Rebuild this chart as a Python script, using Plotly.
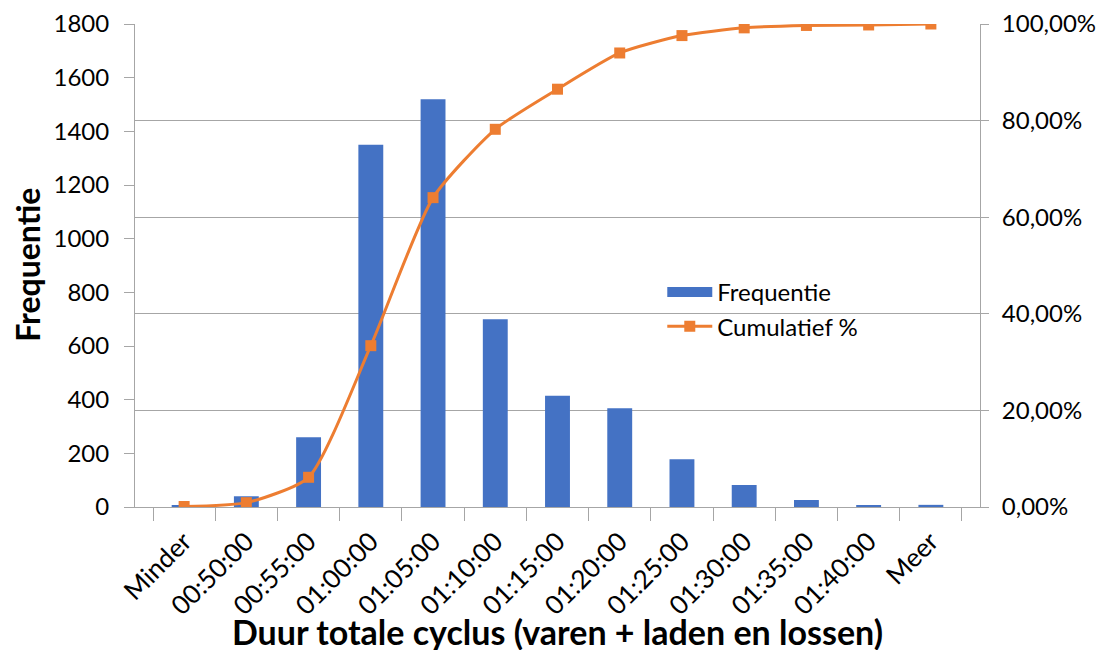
import plotly.graph_objects as go

categories = ["Minder", "00:50:00", "00:55:00", "01:00:00", "01:05:00", "01:10:00",
              "01:15:00", "01:20:00", "01:25:00", "01:30:00", "01:35:00", "01:40:00", "Meer"]
frequentie = [5, 40, 260, 1350, 1520, 700, 415, 368, 178, 82, 26, 5, 8]
cumulatief = [0.001, 0.009, 0.0615, 0.334, 0.6405, 0.782, 0.865, 0.94, 0.976, 0.992, 0.997, 0.998, 1.0]
left_ticks = [0, 200, 400, 600, 800, 1000, 1200, 1400, 1600, 1800]
right_ticks = [0, 0.2, 0.4, 0.6, 0.8, 1.0]

FONT = "Lato"
AXIS_COL = "#a6a6a6"
BLUE = "#4472C4"
ORANGE = "#ED7D31"
TICK_SIZE = 24

fig = go.Figure()
fig.add_trace(go.Bar(x=categories, y=frequentie, name="Frequentie", showlegend=False,
                     marker=dict(color=BLUE, line=dict(width=0)), yaxis="y"))
# legend entry drawn as a wide block, like the reference
fig.add_trace(go.Scatter(x=[None], y=[None], name="Frequentie", mode="lines",
                         line=dict(color=BLUE, width=14), yaxis="y"))
fig.add_trace(go.Scatter(x=categories, y=cumulatief, name="Cumulatief %", yaxis="y2",
                         mode="lines+markers", line=dict(color=ORANGE, width=3, shape="spline", smoothing=0.6),
                         marker=dict(symbol="square", size=11, color=ORANGE)))

fig.update_layout(
    width=1104, height=650,
    margin=dict(l=127, r=132, t=16, b=151, autoexpand=False),
    paper_bgcolor="white", plot_bgcolor="white",
    separators=",.",
    font=dict(family=FONT, size=TICK_SIZE, color="#000000"),
    bargap=0.6,
    showlegend=True,
    legend=dict(x=0.624, y=0.491, xanchor="left", yanchor="top",
                bgcolor="rgba(0,0,0,0)", font=dict(size=TICK_SIZE, family=FONT),
                tracegroupgap=0, itemwidth=45),
    xaxis=dict(type="category", tickangle=-45, showline=True, linecolor=AXIS_COL, linewidth=1,
               ticks="outside", tickson="boundaries", ticklen=13, tickcolor=AXIS_COL,
               ticklabelstandoff=8,
               showgrid=False, tickfont=dict(size=26, family=FONT), automargin=False),
    yaxis=dict(range=[0, 1800], tickvals=left_ticks, showgrid=False, showline=True,
               linecolor=AXIS_COL, linewidth=1, ticks="outside", ticklen=10, tickcolor=AXIS_COL,
               ticklabelstandoff=10,
               tickfont=dict(size=TICK_SIZE, family=FONT), zeroline=False, automargin=False),
    yaxis2=dict(range=[0, 1.0], tickvals=right_ticks, tickformat=".2%", overlaying="y", side="right",
                showgrid=True, gridcolor="#a6a6a6", gridwidth=1, showline=True, linecolor=AXIS_COL,
                linewidth=1, ticks="outside", ticklen=8, tickcolor=AXIS_COL, zeroline=False,
                ticklabelstandoff=8,
                tickfont=dict(size=TICK_SIZE, family=FONT), automargin=False),
    annotations=[
        dict(text="<b>Duur totale cyclus (varen + laden en lossen)</b>", xref="paper", yref="paper",
             x=0.5, y=-0.258, xanchor="center", yanchor="middle", showarrow=False,
             font=dict(size=34, family=FONT, color="#000000")),
        dict(text="<b>Frequentie</b>", xref="paper", yref="paper", textangle=-90,
             x=-0.128, y=0.501, xanchor="center", yanchor="middle", showarrow=False,
             font=dict(size=32, family=FONT, color="#000000")),
    ],
)

fig.write_html("out.html")
